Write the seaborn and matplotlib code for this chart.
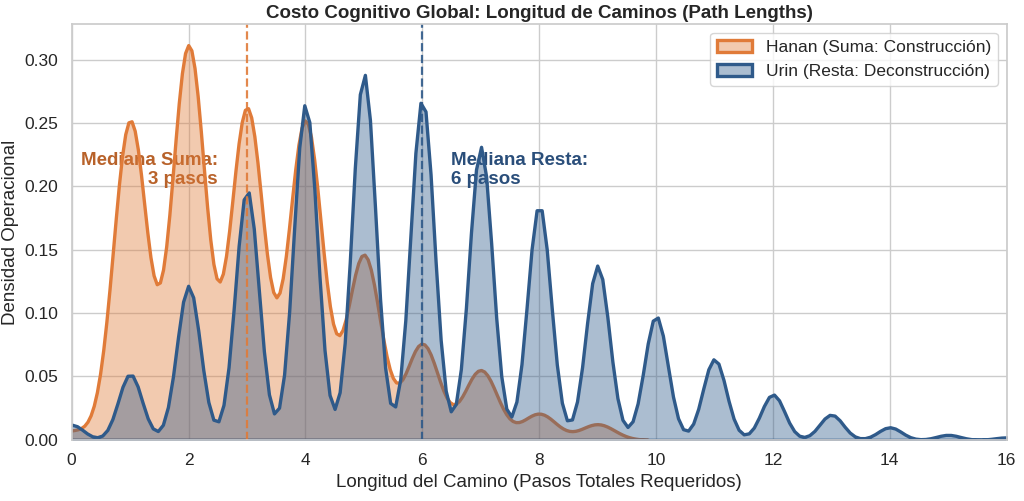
import numpy as np
import pandas as pd
import matplotlib
matplotlib.use("Agg")
import matplotlib.pyplot as plt
import seaborn as sns

# path length (steps) and how many paths of that length, per operation
suma_pasos = [0, 1, 2, 3, 4, 5, 6, 7, 8, 9]
suma_conteo = [5, 183, 226, 190, 183, 106, 55, 40, 15, 9]
resta_pasos = [0, 1, 2, 3, 4, 5, 6, 7, 8, 9, 10, 11, 12, 13, 14, 15, 16]
resta_conteo = [6, 26, 61, 99, 133, 145, 135, 116, 93, 69, 49, 32, 18, 10, 5, 2, 1]

label_suma = "Hanan (Suma: Construcción)"
label_resta = "Urin (Resta: Deconstrucción)"

ORANGE = "#E07B39"
BLUE = "#2F5A8A"

suma = np.repeat(suma_pasos, suma_conteo)
resta = np.repeat(resta_pasos, resta_conteo)


def adjust_for(values, sigma):
    # bw_adjust giving a kernel width of about `sigma` steps (Scott's rule)
    return sigma / (values.std() * len(values) ** -0.2)


sns.set_theme(style="whitegrid")
plt.rcParams["font.family"] = ["Liberation Sans", "DejaVu Sans"]

fig, ax = plt.subplots(figsize=(10.24, 5.01), dpi=100)

sns.kdeplot(x=suma, fill=True, color=ORANGE, alpha=0.4, linewidth=2.4,
            bw_adjust=adjust_for(suma, 0.287), label=label_suma, ax=ax)
sns.kdeplot(x=resta, fill=True, color=BLUE, alpha=0.4, linewidth=2.4,
            bw_adjust=adjust_for(resta, 0.2), label=label_resta, ax=ax)

med_suma = int(np.median(suma))
med_resta = int(np.median(resta))
ax.axvline(med_suma, color=ORANGE, linestyle="--", linewidth=1.6, alpha=0.9)
ax.axvline(med_resta, color=BLUE, linestyle="--", linewidth=1.6, alpha=0.9)

ax.text(med_suma - 0.5, 0.213, f"Mediana Suma:\n{med_suma} pasos", ha="right",
        va="center", color="#B8622A", fontsize=13.5, fontweight="bold", zorder=0.9)
ax.text(med_resta + 0.5, 0.213, f"Mediana Resta:\n{med_resta} pasos", ha="left",
        va="center", color="#2A4E7A", fontsize=13.5, fontweight="bold", zorder=0.9)

ax.set_xlim(0, 16)
ax.set_ylim(0, 0.328)
ax.set_title("Costo Cognitivo Global: Longitud de Caminos (Path Lengths)",
             fontsize=13.5, fontweight="bold", pad=4)
ax.set_xlabel("Longitud del Camino (Pasos Totales Requeridos)", fontsize=13.5)
ax.set_ylabel("Densidad Operacional", fontsize=13.5)
ax.tick_params(labelsize=12.5)
ax.legend(loc="upper right", fontsize=12.5)

fig.subplots_adjust(left=0.07, right=0.983, top=0.952, bottom=0.122)
fig.savefig("out.png", dpi=100)
